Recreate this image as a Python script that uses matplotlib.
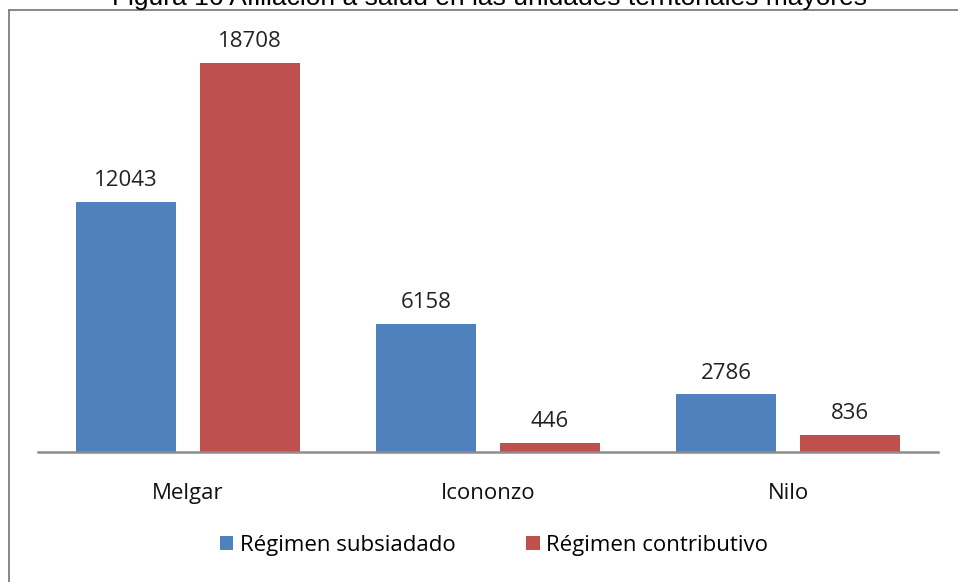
import matplotlib
matplotlib.use("Agg")
import matplotlib.pyplot as plt
from matplotlib.lines import Line2D
from matplotlib.patches import Patch
import numpy as np

categories = ["Melgar", "Icononzo", "Nilo"]
subsidiado = [12043, 6158, 2786]
contributivo = [18708, 446, 836]
series_names = ["Régimen subsiadado", "Régimen contributivo"]
title_text = "Figura 16 Afiliación a salud en las unidades territoriales mayores"

BLUE = "#4F81BD"
RED = "#C0504D"
W, H = 958, 582
FONT = "Open Sans"

fig = plt.figure(figsize=(W / 100, H / 100), dpi=100)
ax = fig.add_axes([38 / W, (H - 452) / H, 900 / W, 416 / H])

x = np.arange(len(categories))
bw = 0.333
off = 0.2067
b1 = ax.bar(x - off, subsidiado, bw, color=BLUE)
b2 = ax.bar(x + off, contributivo, bw, color=RED)

for bars, vals in ((b1, subsidiado), (b2, contributivo)):
    for b, v in zip(bars, vals):
        ax.annotate(str(v), (b.get_x() + b.get_width() / 2, v),
                    xytext=(0, 7.5), textcoords="offset points",
                    ha="center", va="bottom", fontsize=16,
                    family=FONT, color="#222222")

ax.set_xlim(-0.5, 2.5)
ax.set_ylim(0, 20000)
ax.set_yticks([])
ax.set_xticks(x)
ax.set_xticklabels(categories, fontsize=16, family=FONT, color="#111111")
ax.tick_params(axis="x", length=0, pad=22)
for s in ("top", "right", "left"):
    ax.spines[s].set_visible(False)
ax.spines["bottom"].set_color("#8c8c8c")
ax.spines["bottom"].set_linewidth(1.8)

# frame (top and left edges of the screenshot box)
fig.add_artist(Line2D([9 / W, 9 / W], [0, (H - 9.5) / H], color="#7f7f7f", lw=1.3))
fig.add_artist(Line2D([9 / W, 1], [(H - 9.5) / H, (H - 9.5) / H], color="#7f7f7f", lw=1.3))

# partially cropped title
fig.text(489 / W, (H - 5) / H, title_text, ha="center", va="baseline",
         fontsize=19, family="Liberation Sans", color="#000000")

handles = [Patch(facecolor=BLUE), Patch(facecolor=RED)]
fig.legend(handles, series_names, loc="center", bbox_to_anchor=(494 / W, (H - 545) / H),
           ncol=2, frameon=False, prop={"family": FONT, "size": 16},
           handlelength=0.6, handleheight=0.6, handletextpad=0.3, columnspacing=3.2)

fig.savefig("out.png", dpi=100)
